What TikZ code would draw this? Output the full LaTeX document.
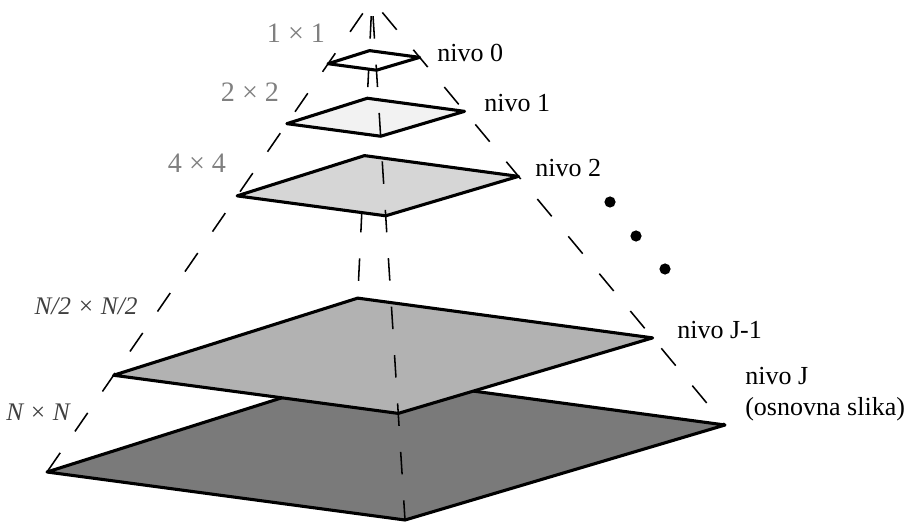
\documentclass[tikz,border=0pt]{standalone}
\usepackage{fontspec}
\setmainfont{Liberation Serif}
\usetikzlibrary{calc}
\tikzset{lvl/.style={draw, line width=2.2pt, line join=round},
  edge/.style={line width=1.1pt, dash pattern=on 16pt off 18.5pt, dash phase=23pt},
  sz/.style={text=black!50, inner sep=0pt, anchor=base, font=\fontsize{20}{22}\selectfont},
  szn/.style={text=black!75, inner sep=0pt, anchor=base, font=\fontsize{18}{20}\selectfont\itshape},
  nv/.style={inner sep=0pt, anchor=base west, align=left, font=\fontsize{18.5}{22}\selectfont},
  dot/.style={circle, fill, inner sep=0pt, minimum size=0.28cm}}

\begin{document}
\begin{tikzpicture}[x=0.025cm, y=-0.025cm]
  \useasboundingbox (0,0) rectangle (911,523);
  % apex and corners of the base image
  \coordinate (ap) at (372,0);
  \coordinate (bl) at (47,472);
  \coordinate (bt) at (354,375);
  \coordinate (br) at (725,425);
  \coordinate (bb) at (405,520);
  % back edge, hidden by the levels
  \draw[edge] (ap) -- (bt);
  % levels, base first
  \foreach \n/\t/\c in {J/1/black!52, K/0.795/black!30, 2/0.415/black!16, 1/0.262/black!5, 0/0.135/white}{
    \foreach \k in {l,t,r,b}{\coordinate (\n\k) at ($(ap)!\t!(b\k)$);}
    \filldraw[lvl, fill=\c] (\n l) -- (\n t) -- (\n r) -- (\n b) -- cycle;
  }
  % side and front edges
  \draw[edge] (ap) -- (bl);
  \draw[edge] (ap) -- (br);
  \draw[edge] (ap) -- (bb);
  % sizes
  \node[sz] (s0) at (296,43) {1 × 1};
  \node[sz] (s1) at (250,102) {2 × 2};
  \node[sz] (s2) at (197,173) {4 × 4};
  \node[szn] (sK) at (86,315) {N/2 × N/2};
  \node[szn] (sJ) at (38,420) {N × N};
  % level names
  \node[nv] (n0) at (437,62) {nivo 0};
  \node[nv] (n1) at (484,112) {nivo 1};
  \node[nv] (n2) at (535,177) {nivo 2};
  \node[nv] (nK) at (677,339) {nivo J-1};
  \node[nv] (nJ) at (745,415) {nivo J\\(osnovna slika)};
  % more levels
  \foreach \i/\x/\y in {1/610/202, 2/636/236, 3/665/269}{
    \node[dot] (d\i) at (\x,\y) {};}
\end{tikzpicture}
\end{document}
